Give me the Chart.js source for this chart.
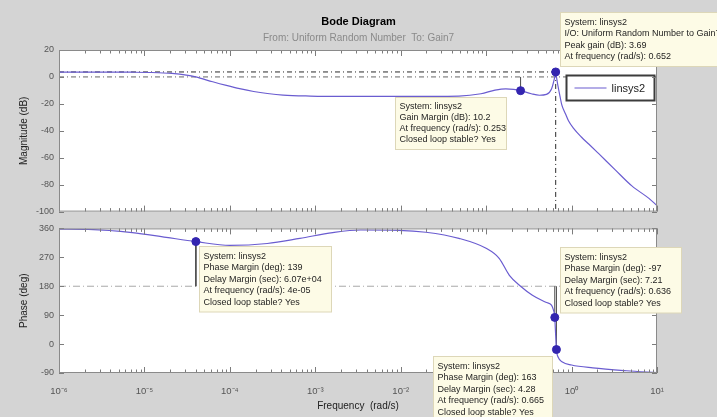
<!DOCTYPE html>
<html>
<head>
<meta charset="utf-8">
<script src="https://cdn.jsdelivr.net/npm/chart.js@4.4.1/dist/chart.umd.min.js"></script>
<style>
  html, body { margin: 0; padding: 0; background: #d4d4d4; }
  #wrap { position: relative; width: 717px; height: 417px; overflow: hidden; background: #d4d4d4; }
  canvas { position: absolute; left: 0; }
  #mag { top: 0; }
  #phase { top: 218px; }
</style>
</head>
<body>
<div id="wrap">
  <canvas id="mag" width="717" height="222"></canvas>
  <canvas id="phase" width="717" height="199"></canvas>
</div>
<script>
// Bode response of linsys2 (Uniform Random Number -> Gain7)
const systemName = 'linsys2';

// Magnitude response (rad/s, dB)
const freqMag = [1e-6, 3e-6, 7e-6, 1.2e-5, 2.1e-5, 3.1e-5, 4e-5, 6.3e-5, 9.1e-5, 1.3e-4, 1.9e-4, 2.75e-4,
  4.2e-4, 8.7e-4, 1.6e-3, 3.4e-3, 1e-2, 0.048, 0.087, 0.127, 0.17, 0.21, 0.253, 0.338, 0.421, 0.508, 0.582,
  0.636, 0.652, 0.665, 0.69, 0.73, 0.77, 0.85, 0.92, 1.05, 1.31, 1.6, 2.08, 3.2, 5.08, 8.05, 10];
const magDb = [3.6, 3.6, 3.5, 3.3, 2.6, 1.4, 0, -3.6, -6.3, -8.7, -10.8, -12.3,
  -13.5, -14.2, -14.4, -14.5, -14.5, -14.2, -12.5, -9.8, -8.8, -9.2, -10.2, -12.5, -13.6, -13, -9,
  0, 3.69, 0, -6, -14, -21, -27.5, -32.5, -38, -44.8, -50, -57, -68.6, -80.9, -90.2, -95.5];

// Phase response (rad/s, deg)
const freqPhase = [1e-6, 2.2e-6, 7.2e-6, 1.8e-5, 4e-5, 1e-4, 2.74e-4, 6.6e-4, 1.6e-3, 3.4e-3, 9.5e-3, 0.0197,
  0.048, 0.1, 0.142, 0.187, 0.253, 0.348, 0.5, 0.582, 0.61, 0.636, 0.645, 0.655, 0.665, 0.7, 0.78, 1.0, 1.77, 4.4, 10];
const phaseDeg = [358, 357, 347, 332, 319, 307, 313, 329, 347, 355, 354, 348,
  329, 298, 267, 214, 180, 152, 130, 121, 108, 83, 50, 15, -17, -42, -56, -65, -74, -83, -89];

// Characteristics (frequency rad/s, value)
const peakFreq = [0.652];
const peakGainDb = [3.69];
const gmFreq = [0.253];
const gainMarginDb = [10.2];
const pmFreq = [4e-5, 0.636, 0.665];
const phaseMarginDeg = [139, -97, 163];
const delayMarginSec = ['6.07e+04', '7.21', '4.28'];
const pmFreqText = ['4e-05', '0.636', '0.665'];

// Axis ticks
const decadeTicks = [1e-6, 1e-5, 1e-4, 1e-3, 1e-2, 1e-1, 1, 10];
const magTicks = [20, 0, -20, -40, -60, -80, -100];
const phaseTicks = [360, 270, 180, 90, 0, -90];

const FONT = "'Liberation Sans', Arial, sans-serif";
Chart.defaults.font.family = FONT;
Chart.defaults.animation = false;

const CURVE = '#6a5cd0';
const MARK = '#3325b0';

const pts = (xs, ys) => xs.map((x, i) => ({ x, y: ys[i] }));

// Phase at a crossover: PM - 180, unwrapped onto the branch of the plotted phase curve
function phaseAtCrossover(pm, f) {
  const base = pm - 180;
  let best = 0, bestD = Infinity;
  freqPhase.forEach((fq, i) => {
    const d = Math.abs(Math.log10(fq) - Math.log10(f));
    if (d < bestD) { bestD = d; best = phaseDeg[i]; }
  });
  return base + 360 * Math.round((best - base) / 360);
}
const phaseAtMargin = phaseMarginDeg.map((pm, i) => phaseAtCrossover(pm, pmFreq[i]));

const SUP = { '-': '\u207B', '0': '\u2070', '1': '\u00B9', '2': '\u00B2', '3': '\u00B3', '4': '\u2074',
  '5': '\u2075', '6': '\u2076', '7': '\u2077', '8': '\u2078', '9': '\u2079' };
const decadeLabel = v => '10' + String(Math.round(Math.log10(v))).split('').map(c => SUP[c]).join('');

// White axes box with inward ticks on all four sides
const axesBox = {
  id: 'axesBox',
  beforeDraw(chart) {
    const { ctx, chartArea: a } = chart;
    ctx.save();
    ctx.fillStyle = '#ffffff';
    ctx.fillRect(a.left, a.top, a.right - a.left, a.bottom - a.top);
    ctx.restore();
  },
  afterDraw(chart) {
    const { ctx, chartArea: a, scales } = chart;
    const xs = scales.x, ys = scales.y;
    ctx.save();
    ctx.strokeStyle = '#7c7c7c';
    ctx.lineWidth = 1;
    ctx.beginPath();
    for (let d = -6; d <= 1; d++) {
      for (let k = 1; k <= 9; k++) {
        const v = k * Math.pow(10, d);
        if (v > 10 * 1.0001) break;
        const px = Math.round(xs.getPixelForValue(v)) + 0.5;
        const len = k === 1 ? 6 : 3.5;
        ctx.moveTo(px, a.bottom); ctx.lineTo(px, a.bottom - len);
        ctx.moveTo(px, a.top); ctx.lineTo(px, a.top + len);
      }
    }
    ys.ticks.forEach(t => {
      const py = Math.round(ys.getPixelForValue(t.value)) + 0.5;
      ctx.moveTo(a.left, py); ctx.lineTo(a.left + 5, py);
      ctx.moveTo(a.right, py); ctx.lineTo(a.right - 5, py);
    });
    ctx.stroke();
    ctx.strokeStyle = '#8a8a8a';
    ctx.strokeRect(a.left + 0.5, a.top + 0.5, a.right - a.left - 1, a.bottom - a.top - 1);
    ctx.restore();
  }
};

// Data tip box anchored at a marker
function drawTip(ctx, ax, ay, dx, dy, w, lines, gap) {
  const x = Math.round(ax + dx) + 0.5, y = Math.round(ay + dy) + 0.5;
  const h = lines.length * gap + 8;
  ctx.save();
  ctx.fillStyle = '#fdfbe6';
  ctx.fillRect(x, y, w, h);
  ctx.strokeStyle = '#ddd7b8';
  ctx.lineWidth = 1;
  ctx.strokeRect(x, y, w, h);
  ctx.fillStyle = '#1e1e1e';
  ctx.font = '9px ' + FONT;
  ctx.textBaseline = 'middle';
  ctx.textAlign = 'left';
  lines.forEach((t, i) => ctx.fillText(t, x + 4, y + 4 + gap * (i + 0.5)));
  ctx.restore();
}

function lockWidth(w) { return s => { s.width = w; }; }
function lockHeight(h) { return s => { s.height = h; }; }

const xScaleBase = {
  type: 'logarithmic',
  min: 1e-6,
  max: 10,
  afterBuildTicks: s => { s.ticks = decadeTicks.map(v => ({ value: v })); },
  grid: { display: false },
  border: { display: false }
};

// ---------- Magnitude ----------
const magTips = {
  id: 'magTips',
  afterDatasetsDraw(chart) {
    const { ctx, scales: { x, y }, chartArea: a } = chart;
    const gmX = x.getPixelForValue(gmFreq[0]), gmY = y.getPixelForValue(-gainMarginDb[0]);
    drawTip(ctx, gmX, gmY, -126, 6, 111, [
      'System: ' + systemName,
      'Gain Margin (dB): ' + gainMarginDb[0],
      'At frequency (rad/s): ' + gmFreq[0],
      'Closed loop stable? Yes'
    ], 11);
    // legend
    const ds = chart.data.datasets.find(d => d.label === systemName);
    const lx = a.right - 90.5, ly = a.top + 25.5, lw = 88, lh = 25;
    ctx.save();
    ctx.fillStyle = '#ffffff';
    ctx.fillRect(lx, ly, lw, lh);
    ctx.strokeStyle = '#3c3c3c';
    ctx.lineWidth = 2;
    ctx.strokeRect(lx, ly, lw, lh);
    ctx.strokeStyle = ds.borderColor;
    ctx.lineWidth = 1.2;
    ctx.beginPath();
    ctx.moveTo(lx + 8, ly + lh / 2); ctx.lineTo(lx + 40, ly + lh / 2);
    ctx.stroke();
    ctx.fillStyle = '#1e1e1e';
    ctx.font = '11px ' + FONT;
    ctx.textBaseline = 'middle';
    ctx.fillText(ds.label, lx + 45, ly + lh / 2 + 0.5);
    ctx.restore();
  },
  afterDraw(chart) {
    const { ctx, scales: { x, y } } = chart;
    const pkX = x.getPixelForValue(peakFreq[0]), pkY = y.getPixelForValue(peakGainDb[0]);
    drawTip(ctx, pkX, pkY, 4, -60, 170, [
      'System: ' + systemName,
      'I/O: Uniform Random Number to Gain7',
      'Peak gain (dB): ' + peakGainDb[0],
      'At frequency (rad/s): ' + peakFreq[0]
    ], 11.5);
  }
};

new Chart(document.getElementById('mag'), {
  type: 'line',
  data: {
    datasets: [
      { label: 'markers', data: [{ x: gmFreq[0], y: -gainMarginDb[0] }, { x: peakFreq[0], y: peakGainDb[0] }],
        showLine: false, pointRadius: 4, pointBackgroundColor: MARK, pointBorderColor: MARK, order: 0 },
      { label: systemName, data: pts(freqMag, magDb), borderColor: CURVE, borderWidth: 1.2,
        pointRadius: 0, cubicInterpolationMode: 'monotone', order: 1 },
      { label: 'gm stem', data: [{ x: gmFreq[0], y: -gainMarginDb[0] }, { x: gmFreq[0], y: 0 }],
        borderColor: '#4a4a4a', borderWidth: 1, pointRadius: 0, order: 2 },
      { label: 'peak level', data: [{ x: 1e-6, y: peakGainDb[0] }, { x: peakFreq[0], y: peakGainDb[0] }],
        borderColor: '#2a2a2a', borderWidth: 1, borderDash: [5, 3, 1, 3], pointRadius: 0, order: 3 },
      { label: 'peak freq', data: [{ x: peakFreq[0], y: peakGainDb[0] }, { x: peakFreq[0], y: -100 }],
        borderColor: '#2a2a2a', borderWidth: 1, borderDash: [5, 3, 1, 3], pointRadius: 0, order: 3 },
      { label: '0 dB', data: [{ x: 1e-6, y: 0 }, { x: 10, y: 0 }],
        borderColor: '#666666', borderWidth: 1, borderDash: [5, 3, 1, 3], pointRadius: 0, order: 4 }
    ]
  },
  options: {
    responsive: false,
    devicePixelRatio: 1,
    layout: { padding: 0 },
    plugins: {
      legend: { display: false },
      tooltip: { enabled: false },
      title: { display: true, text: 'Bode Diagram', color: '#000', font: { size: 11, weight: 'bold' },
        padding: { top: 15, bottom: 2 } },
      subtitle: { display: true, text: 'From: Uniform Random Number  To: Gain7', color: '#8a8a8a',
        font: { size: 10 }, padding: { top: 2, bottom: 5.8 } }
    },
    scales: {
      x: Object.assign({}, xScaleBase, { ticks: { display: false }, afterFit: lockHeight(6) }),
      y: {
        type: 'linear', position: 'left', min: -100, max: 20,
        afterBuildTicks: s => { s.ticks = magTicks.map(v => ({ value: v })); },
        ticks: { color: '#555', font: { size: 9 }, padding: 5 },
        grid: { display: false, drawTicks: false }, border: { display: false },
        title: { display: true, text: 'Magnitude (dB)', color: '#222', font: { size: 10 }, padding: { top: 18, bottom: 0 } },
        afterFit: lockWidth(59)
      },
      yr: {
        type: 'linear', position: 'right', min: -100, max: 20,
        ticks: { display: false }, grid: { display: false }, border: { display: false },
        afterFit: lockWidth(60)
      }
    }
  },
  plugins: [axesBox, magTips]
});

// ---------- Phase ----------
const phaseTips = {
  id: 'phaseTips',
  afterDraw(chart) {
    const { ctx, scales: { x, y } } = chart;
    const offs = [[3, 4, 132], [5, -70, 121], [-123, 6, 119]];
    pmFreq.forEach((f, i) => {
      const mx = x.getPixelForValue(f), my = y.getPixelForValue(phaseAtMargin[i]);
      drawTip(ctx, mx, my, offs[i][0], offs[i][1], offs[i][2], [
        'System: ' + systemName,
        'Phase Margin (deg): ' + phaseMarginDeg[i],
        'Delay Margin (sec): ' + delayMarginSec[i],
        'At frequency (rad/s): ' + pmFreqText[i],
        'Closed loop stable? Yes'
      ], 11.5);
    });
  }
};

new Chart(document.getElementById('phase'), {
  type: 'line',
  data: {
    datasets: [
      { label: 'markers', data: pts(pmFreq, phaseAtMargin), showLine: false, pointRadius: 4,
        pointBackgroundColor: MARK, pointBorderColor: MARK, order: 0 },
      { label: systemName, data: pts(freqPhase, phaseDeg), borderColor: CURVE, borderWidth: 1.2,
        pointRadius: 0, cubicInterpolationMode: 'monotone', order: 1 },
      ...pmFreq.map((f, i) => ({ label: 'pm stem ' + i, data: [{ x: f, y: phaseAtMargin[i] }, { x: f, y: 180 }],
        borderColor: '#4a4a4a', borderWidth: 1, pointRadius: 0, order: 2 })),
      { label: '180 deg', data: [{ x: 1e-6, y: 180 }, { x: 10, y: 180 }],
        borderColor: '#a8a8a8', borderWidth: 1, borderDash: [7, 3, 1, 3], pointRadius: 0, order: 4 }
    ]
  },
  options: {
    responsive: false,
    devicePixelRatio: 1,
    layout: { padding: { top: 10, left: 0, right: 0, bottom: 0 } },
    plugins: { legend: { display: false }, tooltip: { enabled: false } },
    scales: {
      x: Object.assign({}, xScaleBase, {
        ticks: { display: true, color: '#555', font: { size: 9.5 }, padding: 5, maxRotation: 0, autoSkip: false,
          callback: v => decadeLabel(v) },
        title: { display: true, text: 'Frequency  (rad/s)', color: '#222', font: { size: 10 }, padding: { top: 0, bottom: 5 } },
        afterFit: lockHeight(44)
      }),
      y: {
        type: 'linear', position: 'left', min: -90, max: 360,
        afterBuildTicks: s => { s.ticks = phaseTicks.map(v => ({ value: v })); },
        ticks: { color: '#555', font: { size: 9 }, padding: 5 },
        grid: { display: false, drawTicks: false }, border: { display: false },
        title: { display: true, text: 'Phase (deg)', color: '#222', font: { size: 10 }, padding: { top: 18, bottom: 0 } },
        afterFit: lockWidth(59)
      },
      yr: {
        type: 'linear', position: 'right', min: -90, max: 360,
        ticks: { display: false }, grid: { display: false }, border: { display: false },
        afterFit: lockWidth(60)
      }
    }
  },
  plugins: [axesBox, phaseTips]
});
</script>
</body>
</html>
